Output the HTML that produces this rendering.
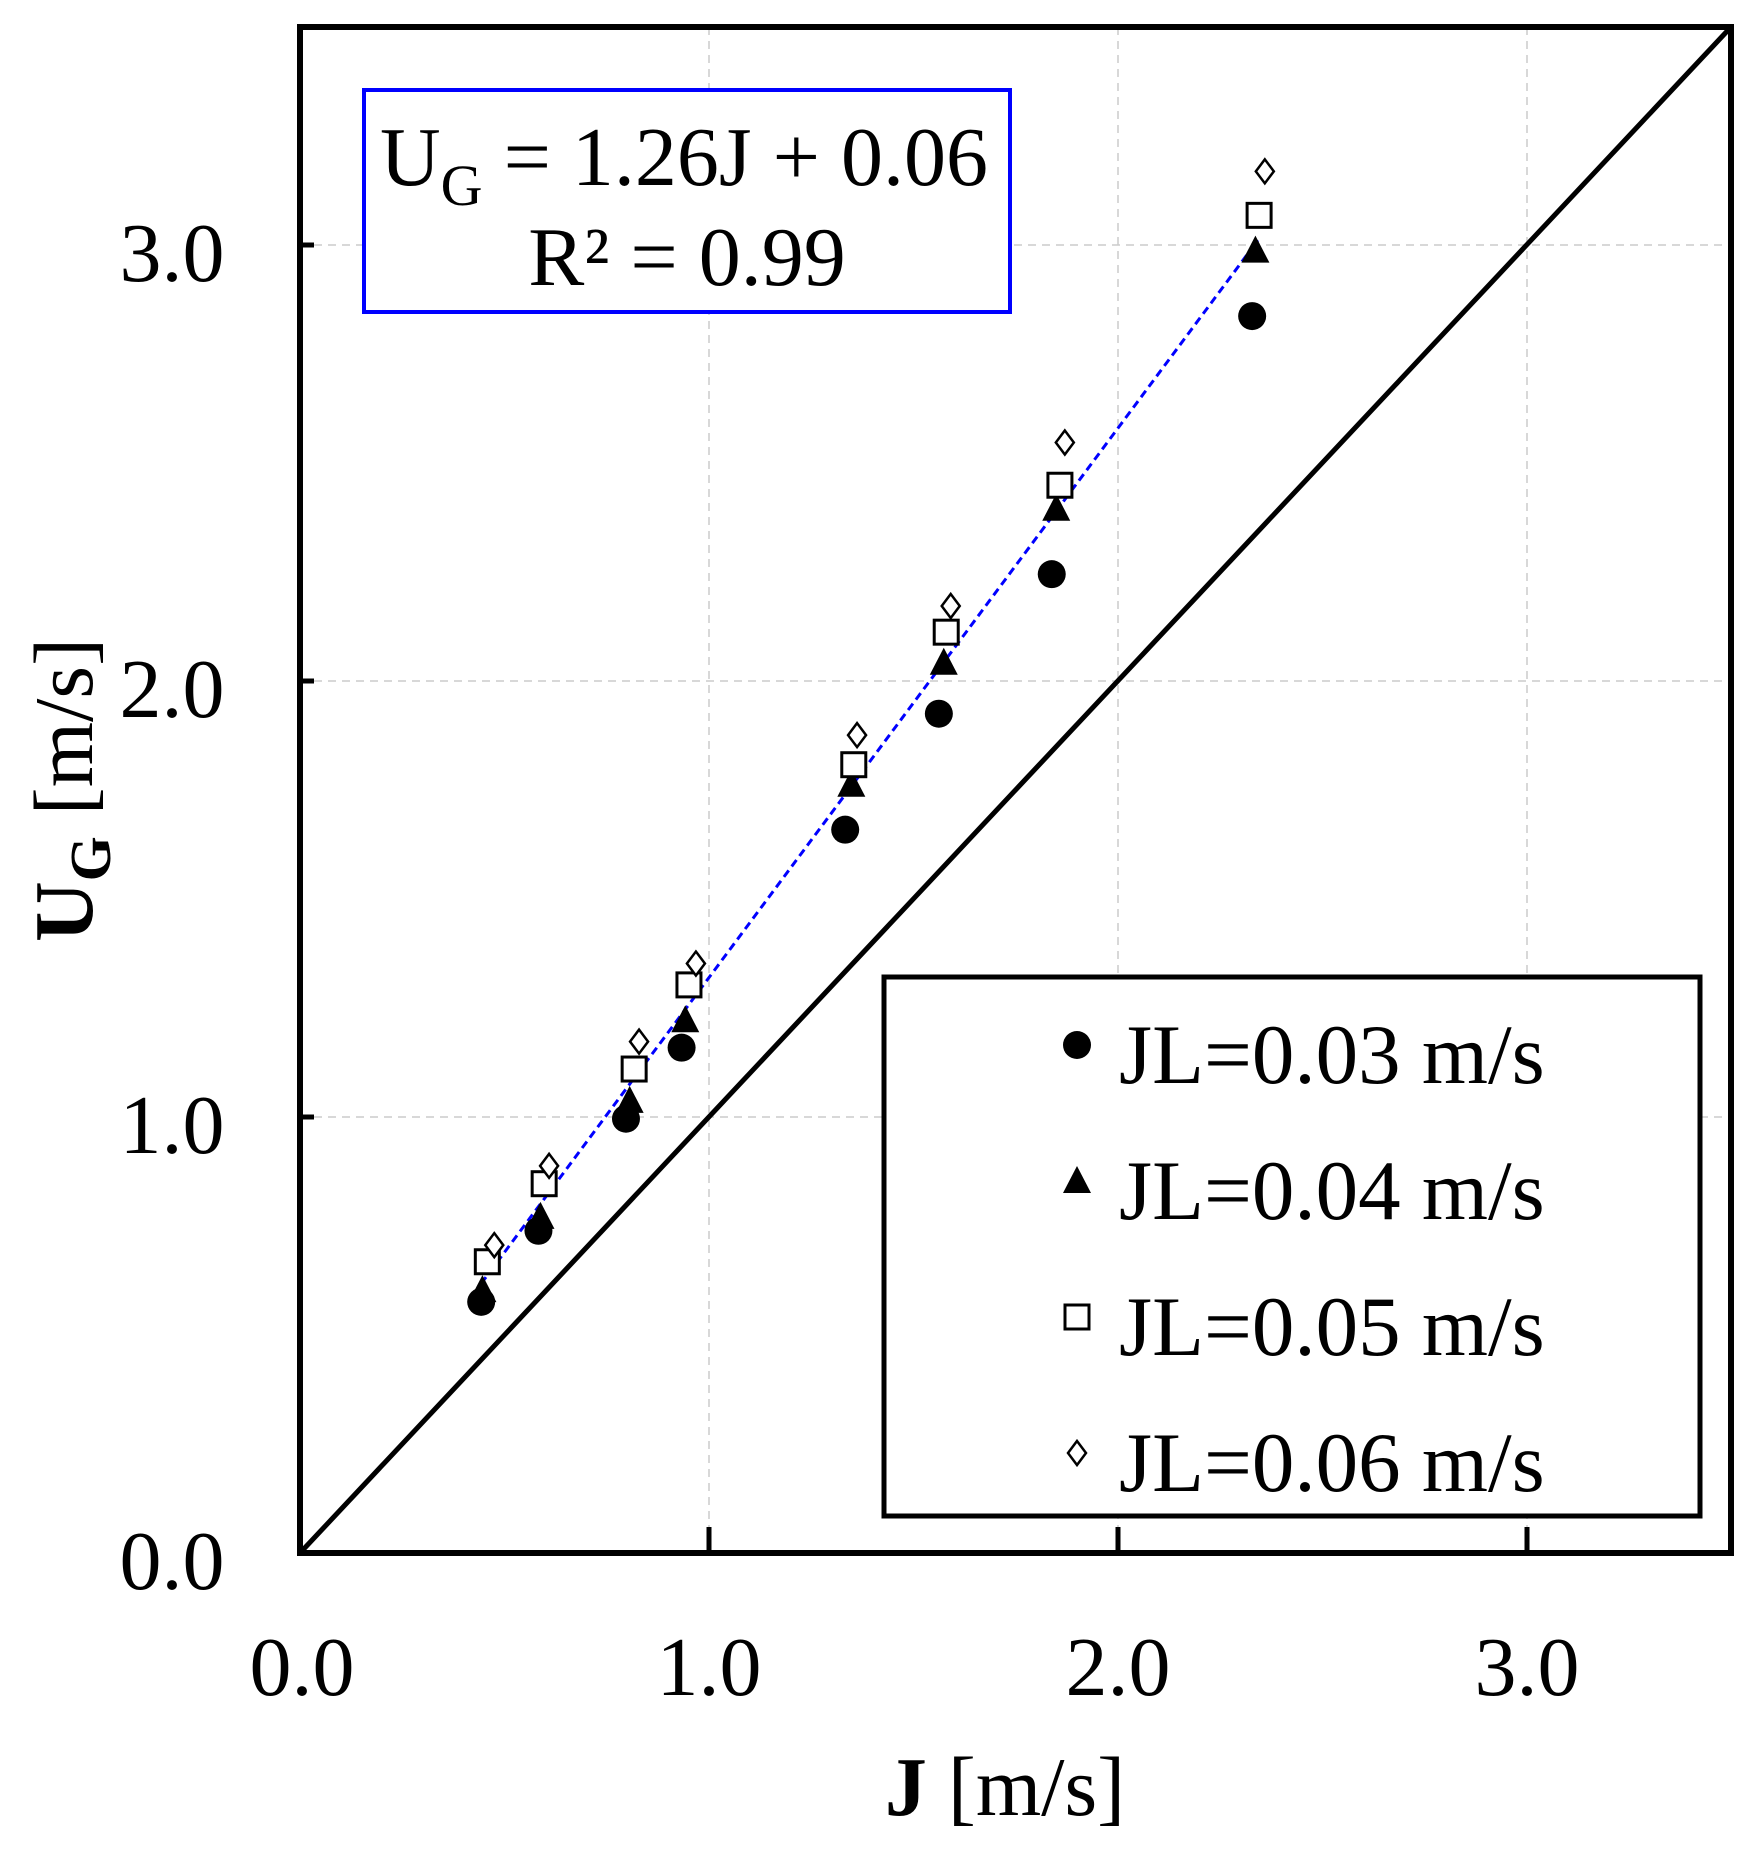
<!DOCTYPE html>
<html><head><meta charset="utf-8"><style>
html,body{margin:0;padding:0;background:#fff}
svg{display:block;font-family:"Liberation Serif",serif}
</style></head><body>
<svg id="s" width="1757" height="1855" viewBox="0 0 1757 1855" xmlns="http://www.w3.org/2000/svg">
<rect width="1757" height="1855" fill="#fff"/>
<g stroke="#ccc" stroke-width="1.5" stroke-dasharray="8,6">
<line x1="709" y1="27" x2="709" y2="1553"/>
<line x1="1118" y1="27" x2="1118" y2="1553"/>
<line x1="1527" y1="27" x2="1527" y2="1553"/>
<line x1="300" y1="1117" x2="1731" y2="1117"/>
<line x1="300" y1="681" x2="1731" y2="681"/>
<line x1="300" y1="245" x2="1731" y2="245"/>
</g>
<line x1="300" y1="1553" x2="1731" y2="27" stroke="#000" stroke-width="5"/>
<g id="pts"></g>
<g stroke="#000" stroke-width="5">
<line x1="709" y1="1553" x2="709" y2="1527"/>
<line x1="1118" y1="1553" x2="1118" y2="1527"/>
<line x1="1527" y1="1553" x2="1527" y2="1527"/>
<line x1="300" y1="1117" x2="314" y2="1117"/>
<line x1="300" y1="681" x2="314" y2="681"/>
<line x1="300" y1="245" x2="314" y2="245"/>
</g>
<rect x="300" y="27" width="1431" height="1526" fill="none" stroke="#000" stroke-width="6"/>
<rect x="364" y="90" width="646" height="222" fill="#fff" stroke="#0000ff" stroke-width="4"/>
<text x="380" y="185" font-size="84">U<tspan font-size="58" dy="20">G</tspan><tspan dy="-20"> = 1.26J + 0.06</tspan></text>
<text x="687" y="285" font-size="84" text-anchor="middle">R² = 0.99</text>
<rect x="884" y="977" width="816" height="539" fill="#fff" stroke="#000" stroke-width="5"/>
<g font-size="85">
<text x="1119" y="1083">JL=0.03 m/s</text>
<text x="1119" y="1219">JL=0.04 m/s</text>
<text x="1119" y="1355">JL=0.05 m/s</text>
<text x="1119" y="1491">JL=0.06 m/s</text>
</g>
<g font-size="84" text-anchor="middle">
<text x="302" y="1695">0.0</text>
<text x="709" y="1695">1.0</text>
<text x="1118" y="1695">2.0</text>
<text x="1527" y="1695">3.0</text>
<text x="172" y="1589">0.0</text>
<text x="172" y="1153">1.0</text>
<text x="172" y="717">2.0</text>
<text x="172" y="281">3.0</text>
<text x="1005" y="1815"><tspan font-weight="bold">J</tspan> [m/s]</text>
</g>
<text transform="translate(92,790) rotate(-90)" font-size="84" text-anchor="middle"><tspan font-weight="bold">U<tspan font-size="58" dy="18">G</tspan></tspan><tspan dy="-18"> [m/s]</tspan></text>
<g id="leg"></g>
</svg>
<script>
var X=function(j){return 300+j*409},Y=function(u){return 1553-u*436};
var d={c:[[.443,.576],[.583,.739],[.797,.996],[.933,1.159],[1.333,1.659],[1.562,1.925],[1.838,2.245],[2.328,2.837]],
t:[[.446,.603],[.588,.771],[.806,1.037],[.942,1.222],[1.348,1.762],[1.574,2.042],[1.849,2.395],[2.336,2.987]],
s:[[.458,.668],[.597,.847],[.817,1.11],[.951,1.303],[1.354,1.808],[1.58,2.112],[1.858,2.449],[2.345,3.068]],
d:[[.475,.706],[.609,.888],[.829,1.173],[.968,1.352],[1.362,1.876],[1.591,2.172],[1.87,2.547],[2.359,3.169]]};
function m(t,x,y){
 if(t=='c')return '<circle cx="'+x+'" cy="'+y+'" r="14" fill="#000"/>';
 if(t=='t')return '<polygon points="'+x+','+(y-15)+' '+(x-14)+','+(y+12)+' '+(x+14)+','+(y+12)+'" fill="#000"/>';
 if(t=='s')return '<rect x="'+(x-12)+'" y="'+(y-12)+'" width="24" height="24" fill="#fff" stroke="#000" stroke-width="3"/>';
 return '<polygon points="'+x+','+(y-12)+' '+(x+9)+','+y+' '+x+','+(y+12)+' '+(x-9)+','+y+'" fill="#fff" stroke="#000" stroke-width="2.5"/>';
}
var h='<line x1="'+X(.443)+'" y1="'+Y(.618)+'" x2="'+X(2.342)+'" y2="'+Y(3.011)+'" stroke="#0000ff" stroke-width="3" stroke-dasharray="8,5"/>';
['c','t','s','d'].forEach(function(t){d[t].forEach(function(p){h+=m(t,X(p[0]),Y(p[1]))})});
document.getElementById('pts').innerHTML=h;
var ly=[1045,1181,1317,1453],lh='';
['c','t','s','d'].forEach(function(t,i){lh+=m(t,1077,ly[i])});
document.getElementById('leg').innerHTML=lh;
</script>
</body></html>
